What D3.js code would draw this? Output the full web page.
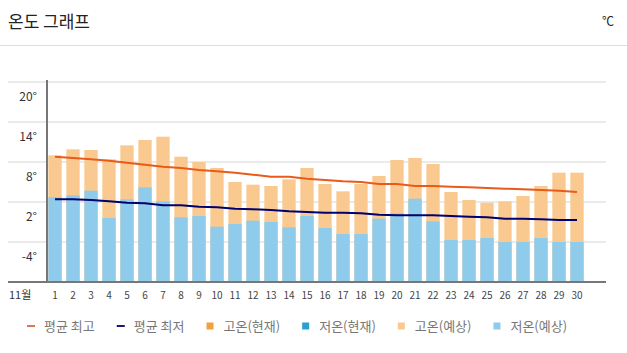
<!DOCTYPE html>
<meta charset="utf-8">
<head>
    <style>
        body { margin: 0; background: #fff; }
        text { font-family: "Noto Sans CJK KR", "Noto Sans", sans-serif; }
    </style>
    <script src="https://d3js.org/d3.v7.min.js"></script>
</head>
<body></body>
<script>

    // 11월 일별 기온 (예상)
    var days = d3.range(1, 31);
    var highs = [9.0, 9.9, 9.8, 8.4, 10.5, 11.3, 11.8, 8.8, 8.0, 7.1,
                 5.0, 4.6, 4.4, 5.4, 7.1, 4.7, 3.6, 4.7, 5.9, 8.3,
                 8.6, 7.7, 3.5, 2.3, 1.9, 2.1, 2.9, 4.4, 6.4, 6.4];
    var lows = [2.7, 3.0, 3.7, -0.4, 2.4, 4.2, 2.1, -0.3, -0.1, -1.7,
                -1.3, -0.8, -1.0, -1.8, -0.1, -1.9, -2.8, -2.8, -0.5, 0.3,
                2.5, -0.9, -3.7, -3.7, -3.4, -4.0, -4.0, -3.4, -4.0, -4.0];
    var avgHigh = [8.8, 8.6, 8.4, 8.2, 7.9, 7.6, 7.3, 7.1, 6.8, 6.6,
                   6.4, 6.1, 5.8, 5.8, 5.5, 5.3, 5.1, 5.0, 4.7, 4.7,
                   4.4, 4.4, 4.3, 4.2, 4.1, 4.0, 3.9, 3.8, 3.7, 3.5];
    var avgLow = [2.4, 2.4, 2.3, 2.1, 1.9, 1.8, 1.5, 1.5, 1.3, 1.2,
                  1.0, 0.9, 0.8, 0.6, 0.5, 0.4, 0.4, 0.3, 0.1, 0.0,
                  0.0, 0.0, -0.1, -0.2, -0.3, -0.5, -0.5, -0.6, -0.7, -0.7];
    var yTicks = [-10, -4, 2, 8, 14, 20];
    var legendItems = [
        {label: "평균 최고", type: "line", color: "#d9774f"},
        {label: "평균 최저", type: "line", color: "#1a1a6e"},
        {label: "고온(현재)", type: "rect", color: "#f5a040"},
        {label: "저온(현재)", type: "rect", color: "#2a9fd0"},
        {label: "고온(예상)", type: "rect", color: "#f9c98f"},
        {label: "저온(예상)", type: "rect", color: "#8fcbea"}
    ];

    var width = 627, height = 353;

    var svg = d3.select("body").append("svg")
        .attr("width", width)
        .attr("height", height);

    // header
    svg.append("text")
        .attr("x", 8).attr("y", 28)
        .attr("font-size", 17).attr("fill", "#222")
        .text("온도 그래프");
    svg.append("text")
        .attr("x", 614).attr("y", 26)
        .attr("text-anchor", "end")
        .attr("font-size", 12).attr("fill", "#222")
        .text("℃");
    svg.append("line")
        .attr("x1", 0).attr("x2", width)
        .attr("y1", 45.5).attr("y2", 45.5)
        .attr("stroke", "#ddd");

    var x = d3.scaleBand().domain(days).range([46, 586]).paddingInner(0.26).paddingOuter(0.13);
    var y = d3.scaleLinear().domain([-10, 20]).range([282, 82]);

    // grid
    svg.selectAll(".grid")
        .data(yTicks.slice(1))
      .enter().append("line")
        .attr("x1", 8).attr("x2", 606)
        .attr("y1", function(d) { return y(d); })
        .attr("y2", function(d) { return y(d); })
        .attr("stroke", "#ebebeb").attr("stroke-width", 2);

    // bars
    svg.selectAll(".hi")
        .data(highs)
      .enter().append("rect")
        .attr("x", function(d, i) { return x(days[i]); })
        .attr("width", x.bandwidth())
        .attr("y", function(d) { return y(d); })
        .attr("height", function(d) { return y(-10) - y(d); })
        .attr("fill", "#f9c98f");
    svg.selectAll(".lo")
        .data(lows)
      .enter().append("rect")
        .attr("x", function(d, i) { return x(days[i]); })
        .attr("width", x.bandwidth())
        .attr("y", function(d) { return y(d); })
        .attr("height", function(d) { return y(-10) - y(d); })
        .attr("fill", "#8fcbea");

    // average lines
    var line = d3.line()
        .x(function(d, i) { return x(days[i]) + x.bandwidth() / 2; })
        .y(function(d) { return y(d); });
    svg.append("path").datum(avgHigh)
        .attr("d", line).attr("fill", "none")
        .attr("stroke", "#ea5a1a").attr("stroke-width", 2);
    svg.append("path").datum(avgLow)
        .attr("d", line).attr("fill", "none")
        .attr("stroke", "#00006e").attr("stroke-width", 2);

    // axes
    svg.append("line")
        .attr("x1", 8).attr("x2", 606)
        .attr("y1", y(-10)).attr("y2", y(-10))
        .attr("stroke", "#777").attr("stroke-width", 2);
    svg.append("line")
        .attr("x1", 47).attr("x2", 47)
        .attr("y1", 80).attr("y2", y(-10))
        .attr("stroke", "#777").attr("stroke-width", 2);

    // y labels sit between the grid lines
    svg.selectAll(".ylab")
        .data(yTicks.slice(1))
      .enter().append("text")
        .attr("x", 37).attr("y", function(d) { return y(d) + 15; })
        .attr("dy", "0.35em")
        .attr("text-anchor", "end")
        .attr("font-size", 12).attr("fill", "#333")
        .text(function(d) { return d + "°"; });

    // x labels
    svg.selectAll(".xlab")
        .data(days)
      .enter().append("text")
        .attr("x", function(d) { return x(d) + x.bandwidth() / 2; })
        .attr("y", 295).attr("dy", "0.35em")
        .attr("text-anchor", "middle")
        .attr("font-size", 10).attr("fill", "#444")
        .text(function(d) { return d; });
    svg.append("text")
        .attr("x", 9).attr("y", 295).attr("dy", "0.35em")
        .attr("font-size", 11).attr("fill", "#333")
        .text("11월");

    // legend
    var lx = 27, ly = 326;
    legendItems.forEach(function(item) {
        if (item.type == "line") {
            svg.append("rect").attr("x", lx).attr("y", ly - 1)
                .attr("width", 8).attr("height", 2).attr("fill", item.color);
        } else {
            svg.append("rect").attr("x", lx).attr("y", ly - 3.5)
                .attr("width", 7).attr("height", 7).attr("fill", item.color);
        }
        var t = svg.append("text")
            .attr("x", lx + 17).attr("y", ly).attr("dy", "0.35em")
            .attr("font-size", 13).attr("fill", "#777")
            .text(item.label);
        lx += 17 + t.node().getComputedTextLength() + 22;
    });

</script>
